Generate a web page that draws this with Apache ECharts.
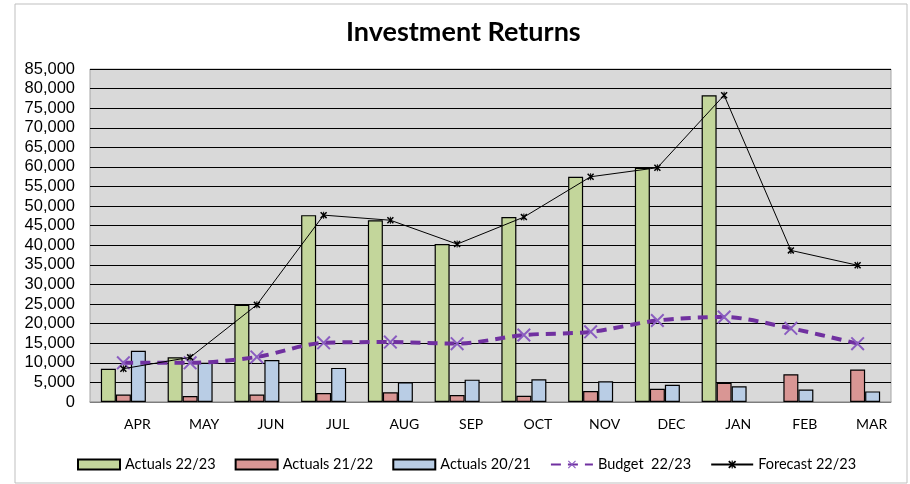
<!DOCTYPE html>
<html>
<head>
<meta charset="utf-8">
<title>Investment Returns</title>
<script src="https://cdn.jsdelivr.net/npm/echarts@6/dist/echarts.min.js"></script>
<style>
  html, body { margin: 0; padding: 0; background: #fff; }
  #chart { width: 910px; height: 484px; }
</style>
</head>
<body>
<div id="chart"></div>
<script>
// data
const months = ['APR', 'MAY', 'JUN', 'JUL', 'AUG', 'SEP', 'OCT', 'NOV', 'DEC', 'JAN', 'FEB', 'MAR'];
const actuals2223 = [8500, 11400, 24800, 47700, 46400, 40300, 47200, 57500, 59800, 78300, null, null];
const actuals2122 = [1900, 1500, 1900, 2300, 2500, 1800, 1600, 2800, 3400, 4900, 7100, 8300];
const actuals2021 = [13100, 10000, 10700, 8700, 5000, 5700, 5800, 5300, 4400, 4000, 3200, 2700];
const budget2223 = [10000, 10000, 11500, 15100, 15300, 14900, 17100, 17900, 20800, 21700, 18800, 14900];
const forecast2223 = [8500, 11400, 24800, 47700, 46400, 40300, 47200, 57500, 59800, 78300, 38700, 34900];

const chart = echarts.init(document.getElementById('chart'));

// marker shapes (excel "x" and "star")
const crossPath = 'path://M0,1L1,0L10,9L9,10ZM9,0L10,1L1,10L0,9Z';
const starPath = 'path://M0,1.5L1.5,0L10,8.5L8.5,10ZM8.5,0L10,1.5L1.5,10L0,8.5ZM4.3,0H5.7V10H4.3Z';

const barSeries = (name, data, color) => ({
  name: name,
  type: 'bar',
  data: data,
  barWidth: 15,
  barGap: '0%',
  itemStyle: { color: color, borderColor: '#000', borderWidth: 1.2 }
});

const option = {
  animation: false,
  backgroundColor: '#fff',
  textStyle: { fontFamily: 'Lato' },
  graphic: [
    {
      type: 'rect',
      shape: { x: 15, y: 4, width: 892, height: 479 },
      style: { fill: 'none', stroke: '#BFBFBF', lineWidth: 1 },
      silent: true
    }
  ],
  title: {
    text: 'Investment Returns',
    left: 341,
    top: 14,
    textStyle: { fontFamily: 'Lato', fontWeight: 'bold', fontSize: 27, color: '#000' }
  },
  legend: {
    left: 72,
    top: 452,
    itemWidth: 42,
    itemHeight: 10,
    itemGap: 19,
    textStyle: { fontFamily: 'Lato', fontSize: 14.5, color: '#000' },
    data: [
      { name: 'Actuals 22/23', icon: 'rect' },
      { name: 'Actuals 21/22', icon: 'rect' },
      { name: 'Actuals 20/21', icon: 'rect' },
      { name: 'Budget  22/23' },
      { name: 'Forecast 22/23' }
    ]
  },
  grid: {
    left: 90,
    right: 19,
    top: 69,
    bottom: 82,
    show: true,
    backgroundColor: '#D9D9D9',
    borderColor: '#A6A6A6',
    borderWidth: 1
  },
  xAxis: {
    type: 'category',
    data: months,
    axisLine: { show: true, lineStyle: { color: '#A6A6A6', width: 1.5 } },
    axisTick: { show: false },
    axisLabel: {
      fontFamily: 'Lato',
      fontSize: 14,
      color: '#000',
      margin: 15,
      padding: [0, 0, 0, 28]
    }
  },
  yAxis: {
    type: 'value',
    min: 0,
    max: 85000,
    interval: 5000,
    axisLine: { show: false },
    axisTick: { show: false },
    axisLabel: {
      fontFamily: 'Liberation Sans',
      fontSize: 16.5,
      color: '#000',
      margin: 15,
      formatter: v => v.toLocaleString('en-US')
    },
    splitLine: { lineStyle: { color: '#000', width: 1.2 } }
  },
  series: [
    barSeries('Actuals 22/23', actuals2223, '#C3D69B'),
    barSeries('Actuals 21/22', actuals2122, '#D99694'),
    barSeries('Actuals 20/21', actuals2021, '#B9CDE5'),
    {
      name: 'Budget  22/23',
      type: 'line',
      data: budget2223,
      smooth: 0.3,
      symbol: crossPath,
      symbolSize: 14,
      itemStyle: { color: '#8A5CC0' },
      lineStyle: { color: '#7030A0', width: 4, type: [10, 7] },
      z: 4
    },
    {
      name: 'Forecast 22/23',
      type: 'line',
      data: forecast2223,
      symbol: starPath,
      symbolSize: 7,
      itemStyle: { color: '#000' },
      lineStyle: { color: '#000', width: 1 },
      z: 5
    }
  ]
};

chart.setOption(option);
</script>
</body>
</html>
